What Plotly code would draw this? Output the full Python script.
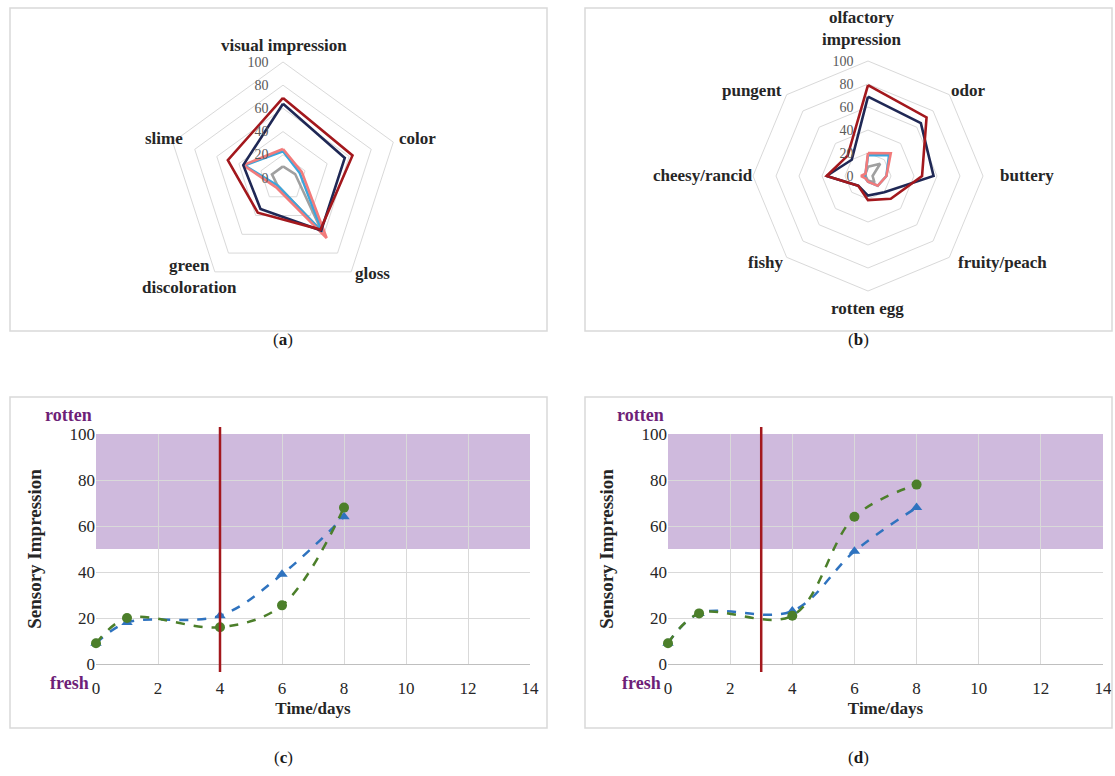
import plotly.graph_objects as go

# ---- radar (a): visual attributes ----
visual_axes = ["visual impression", "color", "gloss", "green discoloration", "slime"]
visual_navy = [64, 56, 56, 33, 36]
visual_red = [69, 63, 55, 37, 50]
visual_blue = [23, 15, 58, 8, 35]
visual_pink = [25, 17, 64, 10, 36]
visual_gray = [10, 11, 57, 8, 10]

# ---- radar (b): olfactory attributes ----
odor_axes = ["olfactory impression", "odor", "buttery", "fruity/peach",
             "rotten egg", "fishy", "cheesy/rancid", "pungent"]
odor_navy = [69, 65, 57, 20, 17, 12, 36, 20]
odor_red = [79, 72, 47, 28, 21, 12, 36, 25]
odor_blue = [18, 26, 16, 12, 5, 3, 3, 3]
odor_pink = [20, 28, 16, 12, 5, 3, 6, 3]
odor_gray = [8, 15, 4, 8, 4, 2, 2, 3]

# ---- time courses (c) and (d) ----
days = [0, 1, 4, 6, 8]
c_blue = [9, 18, 21, 39, 64]
c_green = [9, 20, 16, 25.5, 68]
d_blue = [9, 22, 23, 49, 68]
d_green = [9, 22, 21, 64, 78]
c_limit_day = 4
d_limit_day = 3
rotten_threshold = 50
y_ticks = [0, 20, 40, 60, 80, 100]
x_ticks = [0, 2, 4, 6, 8, 10, 12, 14]

NAVY = "#1f2855"
RED = "#a3181d"
LBLUE = "#3aa6dd"
PINK = "#f27b7b"
GRAY = "#a0a0a0"
BLUE = "#2f73bf"
GREEN = "#4c7f2a"
PURPLE_BAND = "#cfbadd"
PURPLE_TXT = "#6e1f78"
GRID = "#d9d9d9"
SERIF = "Liberation Serif"

W, H = 1115, 776


def px_x(v):
    return v / W


def px_y(v):
    return 1 - v / H


fig = go.Figure()


def closed(seq):
    return list(seq) + [seq[0]]


radar_sets = [
    ("polar", visual_axes, [(visual_gray, GRAY), (visual_blue, LBLUE), (visual_pink, PINK),
                            (visual_navy, NAVY), (visual_red, RED)]),
    ("polar2", odor_axes, [(odor_gray, GRAY), (odor_blue, LBLUE), (odor_pink, PINK),
                           (odor_navy, NAVY), (odor_red, RED)]),
]
for sub, axes, series in radar_sets:
    for vals, col in series:
        fig.add_trace(go.Scatterpolar(
            r=closed(vals), theta=closed(axes), mode="lines",
            line=dict(color=col, width=2.6), subplot=sub, showlegend=False))

# time-course series
for xa, ya, blue, green in [("x", "y", c_blue, c_green), ("x2", "y2", d_blue, d_green)]:
    fig.add_trace(go.Scatter(
        x=days, y=blue, mode="lines+markers", xaxis=xa, yaxis=ya, cliponaxis=False,
        line=dict(color=BLUE, width=2.5, dash="dash", shape="spline", smoothing=1),
        marker=dict(symbol="triangle-up", size=10, color=BLUE), showlegend=False))
    fig.add_trace(go.Scatter(
        x=days, y=green, mode="lines+markers", xaxis=xa, yaxis=ya, cliponaxis=False,
        line=dict(color=GREEN, width=2.5, dash="dash", shape="spline", smoothing=1),
        marker=dict(symbol="circle", size=10, color=GREEN), showlegend=False))


def polar_layout(cx, cy, rad):
    return dict(
        domain=dict(x=[px_x(cx - rad), px_x(cx + rad)], y=[px_y(cy + rad), px_y(cy - rad)]),
        gridshape="linear",
        bgcolor="white",
        radialaxis=dict(range=[0, 100], dtick=20, showline=False, gridcolor=GRID,
                        gridwidth=1, angle=90, side="counterclockwise", tickangle=90,
                        ticks="outside", ticklen=9, tickcolor="rgba(0,0,0,0)",
                        tickfont=dict(family=SERIF, size=14, color="#595959")),
        angularaxis=dict(direction="clockwise", rotation=90, showgrid=False,
                         showline=True, linecolor=GRID, linewidth=1, ticks="",
                         showticklabels=False),
    )


def axis_common():
    return dict(showgrid=True, gridcolor=GRID, gridwidth=1, zeroline=False,
                automargin=False,
                tickfont=dict(family=SERIF, size=17, color="#262626"))


layout = dict(
    width=W, height=H, margin=dict(l=0, r=0, t=0, b=0, autoexpand=False),
    paper_bgcolor="white", plot_bgcolor="white",
    polar=polar_layout(283, 178, 116),
    polar2=polar_layout(868, 176, 115),
)

cart = [("xaxis", "yaxis", "x", "y", 96, 530, c_limit_day),
        ("xaxis2", "yaxis2", "x2", "y2", 668, 1103, d_limit_day)]
shapes = []
annotations = []
for xname, yname, xr, yr, left, right, limit in cart:
    layout[xname] = dict(axis_common(), range=[0, 14], tickvals=x_ticks,
                         domain=[px_x(left), px_x(right)], anchor=yr,
                         showline=True, linecolor="#bfbfbf", linewidth=1,
                         ticks="outside", ticklen=9, tickcolor="rgba(0,0,0,0)",
                         title=dict(text="<b>Time/days</b>", standoff=4,
                                    font=dict(family=SERIF, size=17, color="#262626")))
    layout[yname] = dict(axis_common(), range=[0, 100], tickvals=y_ticks,
                         domain=[px_y(664), px_y(434)], anchor=xr, ticks="",
                         title=dict(text="<b>Sensory Impression</b>", standoff=22,
                                    font=dict(family=SERIF, size=19, color="#262626")))
    # spoilage zone
    shapes.append(dict(type="rect", xref=xr, yref=yr, x0=0, x1=14,
                       y0=rotten_threshold, y1=100, fillcolor=PURPLE_BAND,
                       line=dict(width=0), layer="below"))
    # end of shelf life marker
    shapes.append(dict(type="line", xref=xr, yref="paper", x0=limit, x1=limit,
                       y0=px_y(672), y1=px_y(427), line=dict(color=RED, width=2.5)))
    annotations.append(dict(text="<b>rotten</b>", xref="paper", yref="paper",
                            x=px_x(left - 28), y=px_y(415), showarrow=False,
                            xanchor="center", yanchor="middle",
                            font=dict(family=SERIF, size=18, color=PURPLE_TXT)))
    annotations.append(dict(text="<b>fresh</b>", xref="paper", yref="paper",
                            x=px_x(left - 27), y=px_y(683), showarrow=False,
                            xanchor="center", yanchor="middle",
                            font=dict(family=SERIF, size=18, color=PURPLE_TXT)))

# radar category labels
label_pos = {
    "visual impression": (284, 45),
    "color": (417, 138),
    "gloss": (372, 273),
    "green discoloration": (189, 276),
    "slime": (164, 138),
    "olfactory impression": (862, 29),
    "odor": (968, 90),
    "buttery": (1027, 176),
    "fruity/peach": (1002, 262),
    "rotten egg": (867, 309),
    "fishy": (765, 262),
    "cheesy/rancid": (703, 176),
    "pungent": (752, 90),
}
for name in visual_axes + odor_axes:
    x, y = label_pos[name]
    words = name.split(" ")
    text = "<br>".join(words) if name in ("green discoloration", "olfactory impression") else name
    annotations.append(dict(text=f"<b>{text}</b>", xref="paper", yref="paper",
                            x=px_x(x), y=px_y(y), showarrow=False,
                            xanchor="center", yanchor="middle",
                            font=dict(family=SERIF, size=17, color="#262626")))

# panel frames
for x0, y0, x1, y1 in [(10, 8, 547, 331), (585, 8, 1112, 331),
                       (10, 397, 547, 728), (585, 397, 1112, 728)]:
    shapes.append(dict(type="rect", xref="paper", yref="paper",
                       x0=px_x(x0), x1=px_x(x1), y0=px_y(y1), y1=px_y(y0),
                       line=dict(color=GRID, width=1.5), fillcolor="rgba(0,0,0,0)"))

for letter, x, y in [("a", 283, 339), ("b", 858, 339), ("c", 283, 757), ("d", 858, 757)]:
    annotations.append(dict(text=f"(<b>{letter}</b>)", xref="paper", yref="paper",
                            x=px_x(x), y=px_y(y), showarrow=False,
                            xanchor="center", yanchor="middle",
                            font=dict(family=SERIF, size=17, color="#1a1a1a")))

layout["shapes"] = shapes
layout["annotations"] = annotations
fig.update_layout(**layout)

fig.write_html("out.html")
